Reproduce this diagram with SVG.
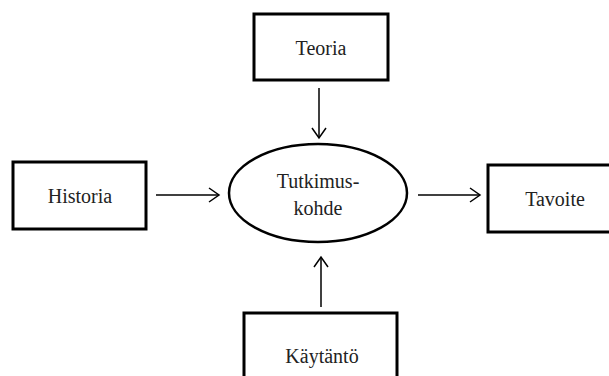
<svg xmlns="http://www.w3.org/2000/svg" width="609" height="376" viewBox="0 0 609 376">
<style>
.box{fill:#fff;stroke:#000;stroke-width:3}
.ell{fill:#fff;stroke:#000;stroke-width:2.5}
.lbl{font-family:'Liberation Serif',serif;font-size:20px;fill:#222;text-anchor:middle}
.arr{stroke:#000;stroke-width:1.5;fill:none;marker-end:url(#ah)}
</style>
<defs>
<marker id="ah" markerUnits="userSpaceOnUse" markerWidth="14" markerHeight="16" refX="11" refY="8" orient="auto">
<path d="M1,1 L11,8 L1,15" fill="none" stroke="#000" stroke-width="1.5"/>
</marker>
</defs>
<rect width="609" height="376" fill="#fff"/>
<g id="connectors">
<line class="arr" x1="319" y1="88" x2="319" y2="138"/>
<line class="arr" x1="156" y1="195" x2="219" y2="195"/>
<line class="arr" x1="418" y1="195" x2="480" y2="195"/>
<line class="arr" x1="321" y1="307" x2="321" y2="257"/>
</g>
<g id="teoria">
<rect class="box" x="254" y="14" width="134" height="66"/>
<text class="lbl" x="321" y="55" font-family="Liberation Serif">Teoria</text>
</g>
<g id="historia">
<rect class="box" x="13" y="162" width="133" height="67"/>
<text class="lbl" x="80" y="203">Historia</text>
</g>
<g id="tutkimuskohde">
<ellipse class="ell" cx="318" cy="193" rx="89" ry="49"/>
<text class="lbl" x="318" y="188">Tutkimus-</text>
<text class="lbl" x="318" y="215">kohde</text>
</g>
<g id="tavoite">
<rect class="box" x="488" y="165" width="135" height="67"/>
<text class="lbl" x="555" y="206">Tavoite</text>
</g>
<g id="kaytanto">
<rect class="box" x="244" y="313" width="153" height="80"/>
<text class="lbl" x="322" y="363">Käytäntö</text>
</g>
</svg>
